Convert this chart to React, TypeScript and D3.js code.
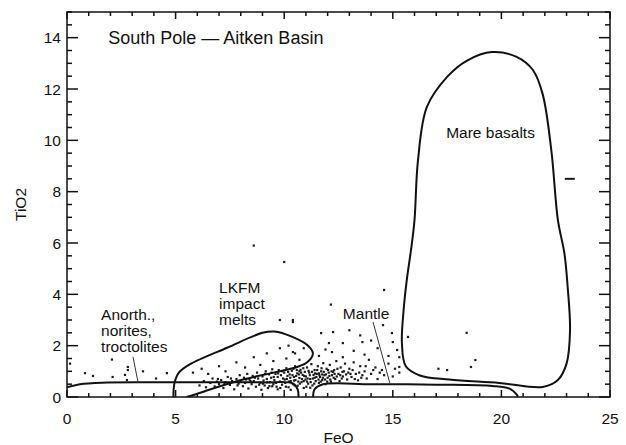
import * as d3 from "d3";

const W = 626;
const H = 445;

const xTicks = [0, 5, 10, 15, 20, 25];
const yTicks = [0, 2, 4, 6, 8, 10, 12, 14];

// FeO, TiO2 outlines
const mareBasalts: [number, number][] = [
  [19.57, 13.44], [20.7, 13.25], [21.45, 12.74], [21.9, 11.8], [22.3, 9.6], [22.6, 6.9],
  [22.9, 5.6], [23.05, 4.3], [23.16, 2.6], [23.0, 1.3], [22.6, 0.66], [21.9, 0.39],
  [19.9, 0.55], [17.6, 0.68], [16.25, 0.84], [15.6, 1.2], [15.42, 2.1], [15.5, 3.4],
  [15.65, 4.6], [15.85, 5.8], [16.0, 6.9], [16.16, 9.23], [16.57, 11.3], [17.5, 12.47],
  [18.4, 13.1],
];
const lkfm: [number, number][] = [
  [4.9, 0], [4.95, 0.55], [5.15, 0.95], [5.65, 1.27], [7.4, 1.93], [9.0, 2.5], [9.55, 2.55],
  [10.35, 2.35], [11.1, 2.0], [11.32, 1.7], [11.1, 1.38], [10.6, 1.17], [9.6, 0.97],
  [8.2, 0.7], [6.9, 0.38], [5.9, 0.1], [5.5, 0],
];
const mantle: [number, number][] = [
  [11.33, 0], [11.4, 0.3], [11.75, 0.49], [14.0, 0.5], [17.0, 0.48], [19.6, 0.43],
  [20.4, 0.32], [20.7, 0.1], [20.76, 0],
];
const anorthosites: [number, number][] = [
  [0, 0.38], [0.6, 0.5], [1.6, 0.56], [5.0, 0.57], [9.0, 0.57], [10.4, 0.53], [10.62, 0.3],
  [10.66, 0],
];

const lowPoints: [number, number][] = [
  [0.14, 1.3], [0.83, 0.93], [1.2, 0.82], [2.07, 1.46], [2.1, 0.78], [2.8, 1.17], [2.8, 1.05],
  [2.67, 0.86], [3.5, 1.0], [4.6, 0.93], [2.76, 0.66], [4.1, 0.72],
];
const clusterPoints: [number, number][] = [
  [6.1, 0.45], [6.3, 0.62], [6.4, 0.38], [6.6, 0.55], [6.7, 0.72], [6.8, 0.41], [6.9, 0.6], [7.0, 0.5],
  [7.1, 0.66], [7.2, 0.35], [7.3, 0.58], [7.4, 0.78], [7.5, 0.47], [7.6, 0.62], [7.7, 0.3], [7.8, 0.7],
  [7.9, 0.52], [7.95, 0.85], [8.0, 0.6], [8.1, 0.42], [8.15, 0.75], [8.2, 0.55], [8.3, 0.9], [8.35, 0.33],
  [8.4, 0.68], [8.5, 0.5], [8.55, 0.82], [8.6, 0.62], [8.7, 0.4], [8.75, 0.95], [8.8, 0.72], [8.9, 0.55],
  [8.95, 0.28], [9.0, 0.8], [9.05, 0.64], [9.1, 0.45], [9.15, 1.0], [9.2, 0.7], [9.25, 0.35], [9.3, 0.88],
  [9.35, 0.58], [9.4, 0.75], [9.45, 1.08], [9.5, 0.5], [9.55, 0.66], [9.6, 0.9], [9.65, 0.4], [9.7, 0.78],
  [9.75, 1.05], [9.8, 0.6], [9.85, 0.85], [9.9, 0.48], [9.95, 0.72], [10.0, 0.95], [10.05, 0.55],
  [10.1, 1.12], [10.12, 0.7], [10.2, 0.38], [10.25, 0.88], [10.3, 0.62], [10.35, 1.02], [10.4, 0.5],
  [10.45, 0.78], [10.5, 1.2], [10.52, 0.66], [10.6, 0.92], [10.62, 0.44], [10.7, 0.74], [10.75, 1.06],
  [10.8, 0.58], [10.85, 0.86], [10.9, 0.35], [10.95, 0.98], [10.98, 0.68], [11.0, 0.8], [11.05, 1.15],
  [11.1, 0.52], [11.15, 0.95], [11.2, 0.7], [11.25, 1.28], [11.3, 0.45], [11.35, 0.86], [11.4, 1.05],
  [11.45, 0.62], [11.5, 0.9], [11.55, 1.2], [11.6, 0.55], [11.65, 0.78], [11.7, 1.0], [11.75, 0.66],
  [11.8, 1.32], [11.85, 0.85], [11.9, 0.5], [11.95, 1.1], [12.0, 0.75], [12.05, 0.95], [12.1, 1.25],
  [12.15, 0.6], [12.2, 0.85], [12.3, 1.05], [12.35, 0.7], [12.4, 1.4], [12.5, 0.9], [12.55, 0.62],
  [12.6, 1.15], [12.7, 0.8], [12.75, 1.0], [12.8, 1.3], [12.9, 0.68], [12.95, 0.95], [13.0, 1.1],
  [13.1, 0.78], [13.2, 1.35], [13.3, 0.9], [13.4, 0.65], [13.5, 1.2], [13.6, 0.85], [13.7, 1.0],
  [13.8, 0.72], [13.9, 1.45], [14.0, 0.9], [14.2, 1.15], [14.3, 0.7], [14.5, 1.05], [14.6, 0.85],
  [14.8, 1.3], [15.0, 0.8], [15.1, 1.1], [15.3, 0.95],
  [9.7, 0.3], [10.3, 0.28], [10.9, 0.62], [11.2, 0.36], [11.6, 0.92], [10.7, 1.0], [10.15, 0.82],
  [9.45, 0.42], [11.05, 0.6], [11.4, 0.75], [10.45, 0.64], [11.75, 0.88], [12.25, 0.98],
  [9.02, 0.52], [9.12, 0.9], [9.22, 0.58], [9.32, 0.42], [9.42, 0.95], [9.52, 0.78], [9.62, 0.55],
  [9.72, 0.92], [9.82, 0.35], [9.92, 1.0], [10.02, 0.68], [10.08, 0.4], [10.18, 0.98], [10.22, 0.6],
  [10.28, 0.75], [10.38, 0.85], [10.42, 1.1], [10.48, 0.45], [10.55, 0.82], [10.58, 1.05], [10.65, 0.6],
  [10.68, 0.88], [10.72, 0.52], [10.78, 0.95], [10.82, 0.7], [10.88, 1.12], [10.92, 0.82], [11.02, 0.4],
  [11.08, 0.72], [11.12, 1.02], [11.18, 0.85], [11.22, 0.58], [11.28, 0.98], [11.32, 0.72], [11.38, 0.52],
  [11.42, 0.92], [11.48, 0.78], [11.52, 1.05], [11.58, 0.68], [11.62, 0.85], [11.68, 0.6], [11.72, 1.12],
  [11.78, 0.75], [11.82, 0.98], [11.88, 0.68], [11.92, 0.88], [11.98, 0.6], [12.02, 1.05], [12.08, 0.82],
  [12.12, 0.68], [12.18, 1.0], [12.28, 0.75], [12.32, 0.9], [12.42, 0.8], [12.45, 1.1], [12.58, 0.85],
  [12.65, 0.72], [12.68, 0.98], [12.85, 0.88], [13.05, 0.9], [13.15, 1.05], [13.25, 0.7], [13.45, 0.95],
  [13.55, 0.75], [13.75, 1.2], [14.1, 1.05], [14.4, 0.95], [8.45, 0.62], [8.65, 0.75], [8.85, 0.48],
  [8.25, 0.68], [7.85, 0.45], [7.55, 0.72], [7.25, 0.5], [6.95, 0.7],
];
const scatterPoints: [number, number][] = [
  [5.8, 0.95], [6.2, 1.1], [6.5, 0.9], [7.0, 1.2], [7.3, 1.0], [7.8, 1.35], [8.2, 1.15], [8.6, 1.55],
  [8.9, 1.25], [9.2, 1.7], [9.5, 1.4], [9.8, 1.9], [10.1, 1.5], [10.4, 1.75], [10.7, 1.45], [10.2, 2.0],
  [9.8, 3.0], [10.4, 3.0], [10.4, 2.92], [11.7, 2.49], [12.25, 2.53], [12.06, 2.1], [12.7, 2.1],
  [13.6, 2.14], [14.55, 2.8], [14.96, 2.49], [15.0, 2.14], [15.2, 1.83], [15.3, 1.17], [10.5, 1.7],
  [10.9, 1.9], [11.6, 1.6], [11.9, 1.85], [12.2, 1.75], [12.7, 1.55], [13.2, 1.8], [13.7, 1.65],
  [14.0, 2.2], [14.3, 1.9], [14.8, 1.6], [15.3, 1.55], [13.0, 2.6], [13.5, 2.4],
];
const outlierPoints: [number, number][] = [
  [8.6, 5.9], [10.0, 5.26], [14.6, 4.17], [12.15, 3.6], [15.7, 2.34], [18.4, 2.5], [18.8, 1.44],
  [18.6, 1.17], [17.5, 1.05], [17.1, 1.1],
];
const dashPoint: [number, number] = [23.15, 8.5];

const labels = [
  { lines: ["Mare basalts"], x: 19.5, y: 10.1, anchor: "middle" },
  { lines: ["LKFM", "impact", "melts"], x: 7.0, y: 4.05, anchor: "start" },
  { lines: ["Anorth.,", "norites,", "troctolites"], x: 1.57, y: 3.0, anchor: "start" },
  { lines: ["Mantle"], x: 12.7, y: 3.05, anchor: "start" },
];
const leaders: [number, number, number, number][] = [
  [3.04, 1.56, 3.27, 0.58],
  [14.09, 2.92, 14.87, 0.52],
];

export default function App() {
  const x = d3.scaleLinear().domain([0, 25]).range([67, 610]);
  const y = d3.scaleLinear().domain([0, 15]).range([397, 12]);

  const closedLine = d3
    .line<[number, number]>()
    .x(d => x(d[0]))
    .y(d => y(d[1]))
    .curve(d3.curveCatmullRomClosed.alpha(0.5));
  const openLine = d3
    .line<[number, number]>()
    .x(d => x(d[0]))
    .y(d => y(d[1]))
    .curve(d3.curveCatmullRom.alpha(0.5));

  const xMinor = d3.range(0, 25.01, 1);
  const yMinor = d3.range(0, 15.01, 0.5);
  const font = "'Liberation Sans', Arial, Helvetica, sans-serif";
  const allPoints = [...lowPoints, ...clusterPoints, ...scatterPoints, ...outlierPoints];

  return (
    <svg
      width={W}
      height={H}
      style={{ position: "absolute", left: 0, top: 0, background: "#fff" }}
      fontFamily={font}
    >
      <rect width={W} height={H} fill="#fff" />
      <defs>
        <clipPath id="plot">
          <rect x={67} y={12} width={543} height={385} />
        </clipPath>
      </defs>

      {/* points */}
      <g fill="#1a1a1a">
        {allPoints.map((p, i) => (
          <rect key={i} x={x(p[0]) - 1.1} y={y(p[1]) - 1.1} width={2.2} height={2.2} />
        ))}
        <rect x={x(dashPoint[0]) - 5} y={y(dashPoint[1]) - 1} width={10} height={2} />
      </g>

      {/* outlines */}
      <g fill="none" stroke="#111" strokeWidth={2} clipPath="url(#plot)">
        <path d={closedLine(mareBasalts) ?? ""} />
        <path d={openLine(lkfm) ?? ""} />
        <path d={openLine(mantle) ?? ""} />
        <path d={openLine(anorthosites) ?? ""} />
      </g>

      <g stroke="#333" strokeWidth={1}>
        {leaders.map((l, i) => (
          <line key={i} x1={x(l[0])} y1={y(l[1])} x2={x(l[2])} y2={y(l[3])} />
        ))}
      </g>

      {/* frame and ticks */}
      <g stroke="#111" strokeWidth={1.5} fill="none">
        <rect x={67} y={12} width={543} height={385} />
        {xMinor.map(v => {
          const major = v % 5 === 0;
          const len = major ? 7 : 4;
          return (
            <g key={"x" + v}>
              <line x1={x(v)} x2={x(v)} y1={y(0)} y2={y(0) - len} />
              <line x1={x(v)} x2={x(v)} y1={y(15)} y2={y(15) + len} />
            </g>
          );
        })}
        {yMinor.map(v => {
          const major = v % 2 === 0;
          const len = major ? 11 : 5;
          return (
            <g key={"y" + v}>
              <line x1={x(0)} x2={x(0) + len} y1={y(v)} y2={y(v)} />
              <line x1={x(25)} x2={x(25) - len} y1={y(v)} y2={y(v)} />
            </g>
          );
        })}
      </g>

      <g fontSize={15.5} fill="#111">
        {xTicks.map(v => (
          <text key={v} x={x(v)} y={y(0) + 27} textAnchor="middle">
            {v}
          </text>
        ))}
        {yTicks.map(v => (
          <text key={v} x={x(0) - 6} y={y(v) + 5.5} textAnchor="end">
            {v}
          </text>
        ))}
        <text x={x(12.5)} y={443} textAnchor="middle">
          FeO
        </text>
        <text transform={`translate(26,${y(7.5)}) rotate(-90)`} textAnchor="middle">
          TiO2
        </text>
      </g>

      <text x={x(1.9)} y={y(13.75)} fontSize={18} fill="#111">
        South Pole — Aitken Basin
      </text>

      <g fontSize={15.5} fill="#111">
        {labels.map((l, i) => (
          <text key={i} x={x(l.x)} y={y(l.y)} textAnchor={l.anchor}>
            {l.lines.map((s, j) => (
              <tspan key={j} x={x(l.x)} dy={j === 0 ? 0 : 16}>
                {s}
              </tspan>
            ))}
          </text>
        ))}
      </g>
    </svg>
  );
}
